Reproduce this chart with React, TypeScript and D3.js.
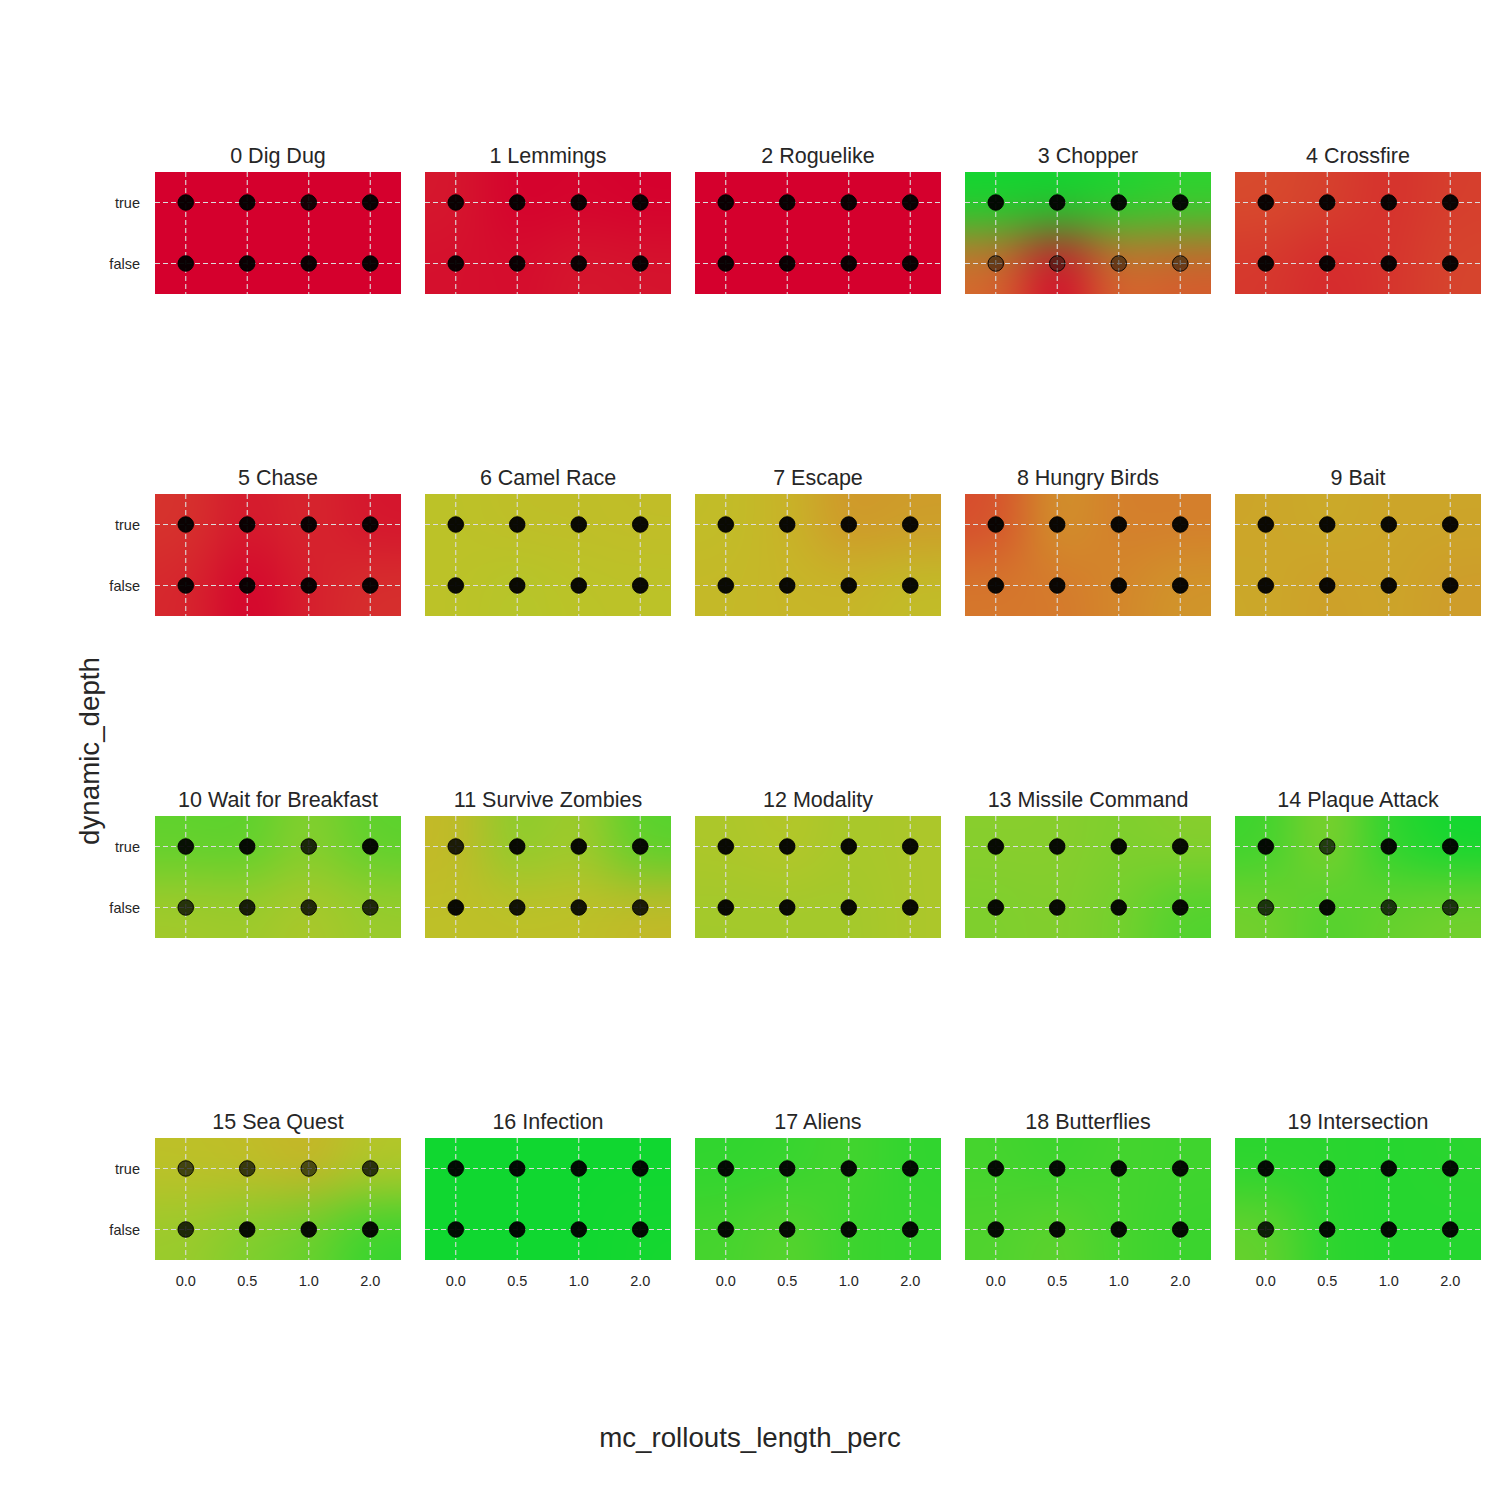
import React, { useMemo } from "react";
import * as d3 from "d3";

const games = [
  "0 Dig Dug", "1 Lemmings", "2 Roguelike", "3 Chopper", "4 Crossfire",
  "5 Chase", "6 Camel Race", "7 Escape", "8 Hungry Birds", "9 Bait",
  "10 Wait for Breakfast", "11 Survive Zombies", "12 Modality", "13 Missile Command", "14 Plaque Attack",
  "15 Sea Quest", "16 Infection", "17 Aliens", "18 Butterflies", "19 Intersection",
];
const xTicks = ["0.0", "0.5", "1.0", "2.0"];
const yTicks = ["true", "false"];

// normalized score at each (dynamic_depth, mc_rollouts_length_perc)
const scoreTrue = [
  [0, 0, 0, 0], [0.06, 0.0, 0.01, 0.0], [0, 0, 0, 0], [1.0, 1.0, 0.98, 0.95], [0.2, 0.17, 0.12, 0.16],
  [0.13, 0.06, 0.1, 0.05], [0.63, 0.61, 0.61, 0.6], [0.6, 0.55, 0.45, 0.47], [0.2, 0.45, 0.37, 0.37], [0.5, 0.52, 0.5, 0.5],
  [0.85, 0.86, 0.76, 0.86], [0.58, 0.76, 0.7, 0.87], [0.68, 0.66, 0.69, 0.68], [0.76, 0.76, 0.78, 0.76], [0.92, 0.76, 0.95, 1.0],
  [0.62, 0.6, 0.55, 0.66], [1.0, 1.0, 1.0, 1.0], [0.94, 0.93, 0.9, 0.94], [0.9, 0.92, 0.9, 0.91], [0.95, 0.95, 0.96, 0.95],
];
const scoreFalse = [
  [0, 0, 0, 0], [0.04, 0.03, 0.06, 0.05], [0, 0, 0, 0], [0.3, 0.0, 0.3, 0.25], [0.14, 0.1, 0.13, 0.18],
  [0.1, 0.0, 0.08, 0.12], [0.63, 0.66, 0.64, 0.63], [0.58, 0.56, 0.56, 0.6], [0.35, 0.35, 0.4, 0.45], [0.51, 0.48, 0.5, 0.47],
  [0.7, 0.71, 0.68, 0.72], [0.62, 0.62, 0.62, 0.58], [0.7, 0.7, 0.7, 0.68], [0.78, 0.77, 0.8, 0.88], [0.8, 0.88, 0.83, 0.8],
  [0.72, 0.78, 0.83, 0.93], [1.0, 1.0, 1.0, 0.99], [0.9, 0.86, 0.92, 0.93], [0.88, 0.85, 0.9, 0.92], [0.83, 0.95, 0.96, 0.96],
];
// marker opacity
const alphaTrue = [
  [0.95, 0.95, 0.9, 0.95], [0.95, 0.95, 0.95, 0.95], [0.95, 0.95, 0.95, 0.95], [0.95, 0.95, 0.95, 0.95], [0.95, 0.95, 0.95, 0.95],
  [0.95, 0.95, 0.95, 0.95], [0.95, 0.95, 0.95, 0.95], [0.95, 0.95, 0.95, 0.95], [0.95, 0.95, 0.95, 0.95], [0.95, 0.95, 0.95, 0.95],
  [0.92, 0.95, 0.8, 0.95], [0.85, 0.95, 0.95, 0.95], [0.95, 0.95, 0.95, 0.95], [0.95, 0.95, 0.95, 0.95], [0.95, 0.7, 0.95, 0.95],
  [0.65, 0.7, 0.6, 0.75], [0.95, 0.95, 0.95, 0.95], [0.95, 0.95, 0.95, 0.95], [0.95, 0.95, 0.95, 0.95], [0.95, 0.95, 0.95, 0.95],
];
const alphaFalse = [
  [0.95, 0.95, 0.95, 0.95], [0.95, 0.95, 0.95, 0.95], [0.95, 0.95, 0.95, 0.95], [0.45, 0.45, 0.45, 0.45], [0.95, 0.95, 0.95, 0.95],
  [0.95, 0.95, 0.95, 0.95], [0.95, 0.95, 0.95, 0.95], [0.95, 0.95, 0.95, 0.95], [0.95, 0.95, 0.95, 0.95], [0.95, 0.95, 0.95, 0.95],
  [0.75, 0.85, 0.8, 0.8], [0.95, 0.9, 0.9, 0.85], [0.95, 0.95, 0.95, 0.95], [0.95, 0.95, 0.95, 0.95], [0.75, 0.95, 0.75, 0.75],
  [0.8, 0.95, 0.95, 0.95], [0.95, 0.95, 0.95, 0.95], [0.95, 0.95, 0.95, 0.95], [0.95, 0.95, 0.95, 0.95], [0.85, 0.95, 0.95, 0.95],
];

const cmapStops = [0, 0.15, 0.3, 0.45, 0.55, 0.65, 0.75, 0.85, 1.0];
const cmapColors = [
  "rgb(213,0,45)", "rgb(214,60,45)", "rgb(216,105,45)", "rgb(208,150,42)", "rgb(200,180,40)",
  "rgb(185,197,40)", "rgb(140,205,45)", "rgb(95,210,45)", "rgb(16,215,48)",
];

const NCOL = 5;
const LEFT = 155;
const TOP = 172;
const PW = 246;
const PH = 122;
const DX = 270;
const DY = 322;
const SIGMA = 32;
const TEXT = "#262626";
const FONT = "'Liberation Sans', Arial, sans-serif";

const color = d3.scaleLinear<string>().domain(cmapStops).range(cmapColors).interpolate(d3.interpolateRgb).clamp(true);
const xs = d3.scalePoint<string>().domain(xTicks).range([0, PW]).padding(0.5);
const ys = d3.scalePoint<string>().domain(yTicks).range([0, PH]).padding(0.5);

function fieldImage(i: number): string {
  const canvas = document.createElement("canvas");
  canvas.width = PW;
  canvas.height = PH;
  const ctx = canvas.getContext("2d");
  if (!ctx) return "";
  const img = ctx.createImageData(PW, PH);
  const pts: { x: number; y: number; c: d3.RGBColor }[] = [];
  xTicks.forEach((t, j) => {
    pts.push({ x: xs(t)!, y: ys("true")!, c: d3.rgb(color(scoreTrue[i][j])) });
    pts.push({ x: xs(t)!, y: ys("false")!, c: d3.rgb(color(scoreFalse[i][j])) });
  });
  const s2 = 2 * SIGMA * SIGMA;
  for (let py = 0; py < PH; py++) {
    for (let px = 0; px < PW; px++) {
      let ws = 0, r = 0, g = 0, b = 0;
      for (const p of pts) {
        const dx = px + 0.5 - p.x, dy = py + 0.5 - p.y;
        const w = Math.exp(-(dx * dx + dy * dy) / s2) + 1e-12;
        ws += w;
        r += w * p.c.r;
        g += w * p.c.g;
        b += w * p.c.b;
      }
      const k = (py * PW + px) * 4;
      img.data[k] = r / ws;
      img.data[k + 1] = g / ws;
      img.data[k + 2] = b / ws;
      img.data[k + 3] = 255;
    }
  }
  ctx.putImageData(img, 0, 0);
  return canvas.toDataURL();
}

export default function App() {
  const images = useMemo(() => games.map((_, i) => fieldImage(i)), []);
  return (
    <svg width={1500} height={1500} style={{ position: "absolute", left: 0, top: 0, background: "#fff" }}>
      {games.map((g, i) => {
        const col = i % NCOL;
        const row = Math.floor(i / NCOL);
        const ox = LEFT + col * DX;
        const oy = TOP + row * DY;
        return (
          <g key={g} transform={`translate(${ox},${oy})`}>
            <image href={images[i]} x={0} y={0} width={PW} height={PH} preserveAspectRatio="none" />
            {xTicks.map((t) => (
              <line key={"gx" + t} x1={xs(t)} x2={xs(t)} y1={0} y2={PH} stroke="#dcdcdc" strokeWidth={1.1} strokeDasharray="5,3" />
            ))}
            {yTicks.map((t) => (
              <line key={"gy" + t} x1={0} x2={PW} y1={ys(t)} y2={ys(t)} stroke="#dcdcdc" strokeWidth={1.1} strokeDasharray="5,3" />
            ))}
            {xTicks.map((t, j) => (
              <g key={"p" + t}>
                <circle cx={xs(t)} cy={ys("true")} r={7.8} fill="#000" fillOpacity={alphaTrue[i][j]} stroke="#000" strokeOpacity={0.9} strokeWidth={1} />
                <circle cx={xs(t)} cy={ys("false")} r={7.8} fill="#000" fillOpacity={alphaFalse[i][j]} stroke="#000" strokeOpacity={0.9} strokeWidth={1} />
              </g>
            ))}
            <text x={PW / 2} y={-9} textAnchor="middle" fontFamily={FONT} fontSize={21.5} fill={TEXT}>{g}</text>
            {col === 0 && yTicks.map((t) => (
              <text key={"yt" + t} x={-15} y={ys(t)} dy="0.35em" textAnchor="end" fontFamily={FONT} fontSize={14.5} fill={TEXT}>{t}</text>
            ))}
            {row === 3 && xTicks.map((t) => (
              <text key={"xt" + t} x={xs(t)} y={PH + 26} textAnchor="middle" fontFamily={FONT} fontSize={14.5} fill={TEXT}>{t}</text>
            ))}
          </g>
        );
      })}
      <text x={750} y={1447} textAnchor="middle" fontFamily={FONT} fontSize={27.7} fill={TEXT}>mc_rollouts_length_perc</text>
      <text transform="translate(99,751) rotate(-90)" textAnchor="middle" fontFamily={FONT} fontSize={27.7} fill={TEXT}>dynamic_depth</text>
    </svg>
  );
}
